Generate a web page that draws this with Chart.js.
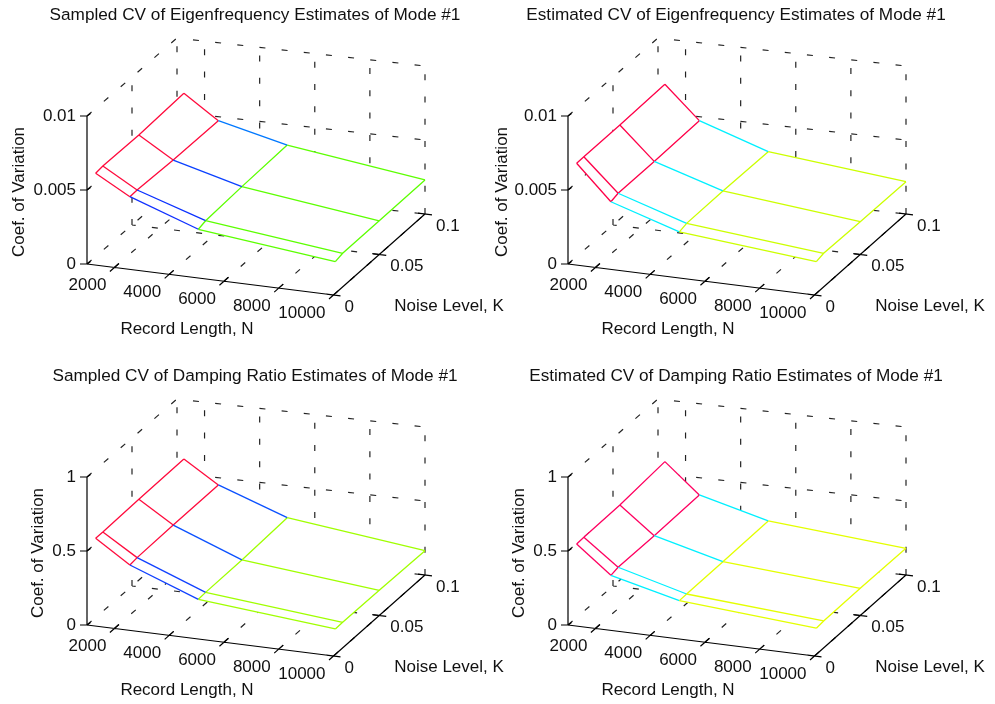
<!DOCTYPE html>
<html>
<head>
<meta charset="utf-8">
<title>CV of modal estimates</title>
<script src="https://cdn.jsdelivr.net/npm/chart.js@4/dist/chart.umd.min.js"></script>
<style>
    html, body { margin: 0; padding: 0; background: #fff; }
    body { position: relative; width: 995px; height: 704px; overflow: hidden; }
    canvas { position: absolute; }
</style>
</head>
<body>
<canvas id="chart1" width="510" height="343" style="left:0;top:0"></canvas>
<canvas id="chart2" width="510" height="343" style="left:481px;top:0"></canvas>
<canvas id="chart3" width="510" height="343" style="left:0;top:361px"></canvas>
<canvas id="chart4" width="510" height="343" style="left:481px;top:361px"></canvas>
<script>
// mesh grid
const recordLengths = [1250, 2500, 5000, 10000];
const noiseLevels = [0.002, 0.01, 0.05, 0.1];

// tick values
const nTicks = [2000, 4000, 6000, 8000, 10000];
const kTicks = [0, 0.05, 0.1];
const kTickLabels = ["0", "0.05", "0.1"];
const freqTicks = [0, 0.005, 0.01];
const freqTickLabels = ["0", "0.005", "0.01"];
const dampTicks = [0, 0.5, 1];
const dampTickLabels = ["0", "0.5", "1"];

// one row per noise level, one column per record length
const sampledFreqCV = [
    [0.00608, 0.00479, 0.00317, 0.00215],
    [0.00615, 0.00482, 0.00332, 0.00227],
    [0.00614, 0.00472, 0.00348, 0.00228],
    [0.00632, 0.00473, 0.00361, 0.00230]
];
const estimatedFreqCV = [
    [0.00676, 0.00445, 0.00299, 0.00215],
    [0.00678, 0.00460, 0.00314, 0.00227],
    [0.00681, 0.00463, 0.00319, 0.00222],
    [0.00693, 0.00473, 0.00316, 0.00218]
];
const sampledDampCV = [
    [0.581, 0.430, 0.256, 0.172],
    [0.581, 0.437, 0.260, 0.173],
    [0.591, 0.445, 0.265, 0.170],
    [0.600, 0.451, 0.282, 0.164]
];
const estimatedDampCV = [
    [0.542, 0.360, 0.247, 0.177],
    [0.546, 0.372, 0.249, 0.182],
    [0.553, 0.373, 0.253, 0.184],
    [0.582, 0.383, 0.260, 0.180]
];

const FONT = '"Liberation Sans", Arial, sans-serif';
const INK = "#111";
const DASH = [6, 16.3];

// view of the 3d box, in canvas pixels (skew = the box is a bit narrower at the back)
const view = {
    ox: 87, oy: 264,
    nx: 246.5, ny: 31,
    kx: 90, ky: -78,
    skewX: 1.5, skewY: -3,
    zy: -148,
    nMin: 1000, nMax: 10000, kMax: 0.1
};

function project(n, k, z, zMax) {
    const a = (n - view.nMin) / (view.nMax - view.nMin);
    const b = k / view.kMax;
    const c = z / zMax;
    return {
        x: view.ox + a * view.nx + b * view.kx + a * b * view.skewX,
        y: view.oy + a * view.ny + b * view.ky + a * b * view.skewY + c * view.zy
    };
}

// adds a separate piece to a list of points, null breaks the line
function addLine(list, p, q) {
    list.push(p, q, { x: null, y: null });
}

// grid lines whose dashes begin at the first point
function gridPoints(zTicks, zMax) {
    const pts = [];
    const { nMin, nMax, kMax } = view;
    const P = (n, k, z) => project(n, k, z, zMax);

    // back wall verticals, bottom to top
    [nMin, ...nTicks].forEach(n => addLine(pts, P(n, kMax, 0), P(n, kMax, zMax)));
    // left wall
    addLine(pts, P(nMin, 0.05, 0), P(nMin, 0.05, zMax));
    zTicks.slice(1).forEach(z => addLine(pts, P(nMin, 0, z), P(nMin, kMax, z)));
    // floor
    [nMin, ...nTicks].forEach(n => addLine(pts, P(n, 0, 0), P(n, kMax, 0)));
    addLine(pts, P(nMax, 0.05, 0), P(nMin, 0.05, 0));
    return pts;
}

// back wall horizontals, these have their dashes shifted
function backWallPoints(zTicks, zMax) {
    const pts = [];
    zTicks.forEach(z => addLine(pts,
        project(view.nMax, view.kMax, z, zMax),
        project(view.nMin, view.kMax, z, zMax)));
    return pts;
}

function axisPoints(zTicks, zMax) {
    const pts = [];
    const { nMin, nMax, kMax } = view;
    const P = (n, k, z) => project(n, k, z, zMax);
    const shift = (p, dx, dy) => ({ x: p.x + dx, y: p.y + dy });

    addLine(pts, P(nMin, 0, 0), P(nMin, 0, zMax));
    addLine(pts, P(nMin, 0, 0), P(nMax, 0, 0));
    addLine(pts, P(nMax, 0, 0), P(nMax, kMax, 0));

    zTicks.forEach(z => {
        const p = P(nMin, 0, z);
        addLine(pts, shift(p, -7, 0), p);
        addLine(pts, p, shift(p, 3.5, -2.5));
    });
    nTicks.forEach(n => {
        const p = P(n, 0, 0);
        addLine(pts, shift(p, -4.5, 4), shift(p, 4.5, -4));
    });
    kTicks.forEach(k => {
        const p = P(nMax, k, 0);
        addLine(pts, shift(p, -7, -0.9), shift(p, 7, 0.9));
    });
    return pts;
}

function surfaceOutline(values, zMax) {
    const last = recordLengths.length - 1;
    const pts = [];
    recordLengths.forEach((n, j) => pts.push(project(n, noiseLevels[0], values[0][j], zMax)));
    noiseLevels.forEach((k, i) => pts.push(project(recordLengths[last], k, values[i][last], zMax)));
    for (let j = last; j >= 0; j--) {
        pts.push(project(recordLengths[j], noiseLevels[3], values[3][j], zMax));
    }
    for (let i = 3; i >= 0; i--) {
        pts.push(project(recordLengths[0], noiseLevels[i], values[i][0], zMax));
    }
    return pts;
}

function meshDatasets(values, zMax, colors) {
    const sets = [];
    // lines along the record length
    noiseLevels.forEach((k, i) => {
        const segColors = [colors.high, colors.mid[i], colors.low];
        sets.push({
            data: recordLengths.map((n, j) => project(n, k, values[i][j], zMax)),
            showLine: true,
            pointRadius: 0,
            borderWidth: 1.3,
            borderColor: colors.high,
            segment: { borderColor: c => segColors[c.p0DataIndex] },
            order: 1
        });
    });
    // lines along the noise level
    recordLengths.forEach((n, j) => {
        sets.push({
            data: noiseLevels.map((k, i) => project(n, k, values[i][j], zMax)),
            showLine: true,
            pointRadius: 0,
            borderWidth: 1.3,
            borderColor: j < 2 ? colors.high : colors.low,
            order: 1
        });
    });
    return sets;
}

// draws the tick labels and axis titles of the box
const boxLabels = {
    id: "boxLabels",
    afterDatasetsDraw(chart, args, opts) {
        const ctx = chart.ctx;
        const sx = chart.scales.x;
        const sy = chart.scales.y;
        const { zTicks, zLabels, zMax, zTitleX } = opts;

        const put = (text, p, dx, dy, align) => {
            ctx.textAlign = align;
            ctx.fillText(text, sx.getPixelForValue(p.x) + dx, sy.getPixelForValue(p.y) + dy);
        };

        ctx.save();
        ctx.fillStyle = INK;
        ctx.textBaseline = "middle";
        ctx.font = "17px " + FONT;

        zTicks.forEach((z, i) => put(zLabels[i], project(view.nMin, 0, z, zMax), -11, 0, "right"));
        nTicks.forEach(n => put(String(n), project(n, 0, 0, zMax), -8, 18, "right"));
        kTicks.forEach((k, i) => put(kTickLabels[i], project(view.nMax, k, 0, zMax), 11, 12, "left"));

        ctx.textAlign = "center";
        ctx.fillText("Record Length, N", 187, 329);
        ctx.fillText("Noise Level, K", 449, 306);

        ctx.translate(zTitleX, 192);
        ctx.rotate(-Math.PI / 2);
        ctx.fillText("Coef. of Variation", 0, 0);
        ctx.restore();
    }
};

function makeChart(id, title, values, zTicks, zLabels, colors, zTitleX) {
    const zMax = zTicks[zTicks.length - 1];

    return new Chart(document.getElementById(id), {
        type: "scatter",
        data: {
            datasets: [
                {
                    data: gridPoints(zTicks, zMax),
                    showLine: true,
                    pointRadius: 0,
                    borderWidth: 1.2,
                    borderColor: "#222",
                    borderDash: DASH,
                    order: 3
                },
                {
                    data: backWallPoints(zTicks, zMax),
                    showLine: true,
                    pointRadius: 0,
                    borderWidth: 1.2,
                    borderColor: "#222",
                    borderDash: DASH,
                    borderDashOffset: 17.8,
                    order: 3
                },
                {
                    data: surfaceOutline(values, zMax),
                    showLine: true,
                    pointRadius: 0,
                    borderWidth: 0,
                    borderColor: "rgba(0,0,0,0)",
                    backgroundColor: "#fff",
                    fill: "shape",
                    order: 2
                },
                ...meshDatasets(values, zMax, colors),
                {
                    data: axisPoints(zTicks, zMax),
                    showLine: true,
                    pointRadius: 0,
                    borderWidth: 1.2,
                    borderColor: "#000",
                    order: 0
                }
            ]
        },
        options: {
            responsive: false,
            animation: false,
            events: [],
            layout: { padding: 0 },
            plugins: {
                legend: { display: false },
                tooltip: { enabled: false },
                title: {
                    display: true,
                    text: title,
                    color: INK,
                    font: { family: FONT, size: 17.2, weight: "normal", lineHeight: 1 },
                    padding: { top: 6.4, bottom: 6.4 }
                },
                boxLabels: { zTicks, zLabels, zMax, zTitleX }
            },
            scales: {
                x: { type: "linear", display: false, min: 0, max: 510 },
                y: { type: "linear", display: false, min: 30, max: 343, reverse: true }
            }
        },
        plugins: [boxLabels]
    });
}

makeChart("chart1", "Sampled CV of Eigenfrequency Estimates of Mode #1", sampledFreqCV,
    freqTicks, freqTickLabels,
    { high: "#ff0a3c", mid: ["#1030ff", "#0a30ff", "#0a40ff", "#0078ff"], low: "#5cff00" }, 19);

makeChart("chart2", "Estimated CV of Eigenfrequency Estimates of Mode #1", estimatedFreqCV,
    freqTicks, freqTickLabels,
    { high: "#ff0048", mid: ["#00f0ff", "#00f0ff", "#00f0ff", "#00f0ff"], low: "#ccff00" }, 21);

makeChart("chart3", "Sampled CV of Damping Ratio Estimates of Mode #1", sampledDampCV,
    dampTicks, dampTickLabels,
    { high: "#ff0a3c", mid: ["#1040ff", "#1040ff", "#0a50ff", "#0a50ff"], low: "#a0ff00" }, 38);

makeChart("chart4", "Estimated CV of Damping Ratio Estimates of Mode #1", estimatedDampCV,
    dampTicks, dampTickLabels,
    { high: "#ff0060", mid: ["#00f0ff", "#00f0ff", "#00f0ff", "#00f0ff"], low: "#e4ff00" }, 38);
</script>
</body>
</html>
